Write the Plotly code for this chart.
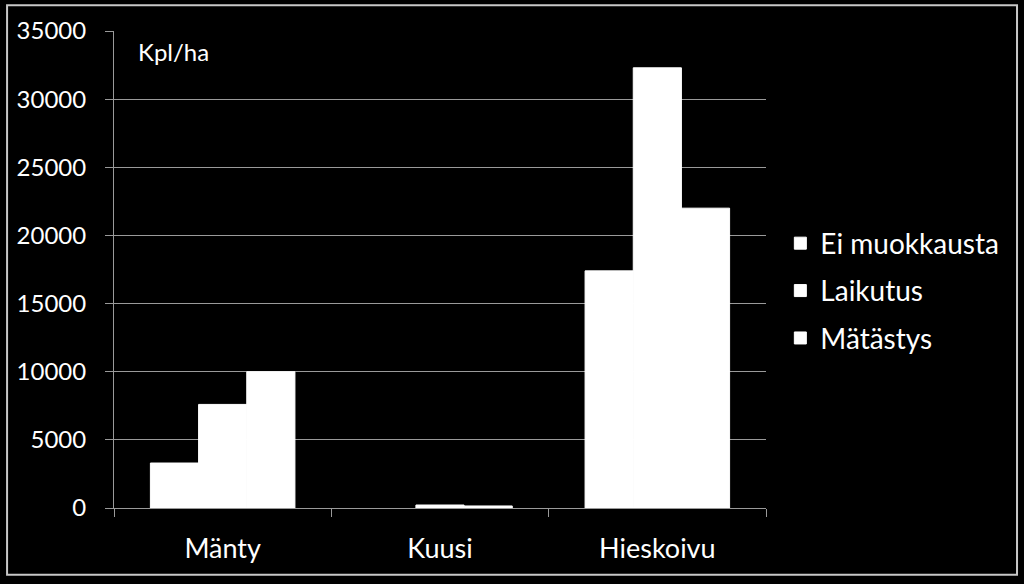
import plotly.graph_objects as go

# Taimitiheys (kpl/ha) puulajeittain ja muokkaustavoittain
categories = ["Mänty", "Kuusi", "Hieskoivu"]
series_names = ["Ei muokkausta", "Laikutus", "Mätästys"]
ei_muokkausta = [3300, 0, 17400]
laikutus = [7600, 220, 32300]
matastys = [10000, 150, 22000]
y_ticks = [0, 5000, 10000, 15000, 20000, 25000, 30000, 35000]

FONT = "Lato"
GRID = "#9a9a9a"

fig = go.Figure()
for name, vals in zip(series_names, [ei_muokkausta, laikutus, matastys]):
    # white outline hides seams between bars, but not on empty bars
    fig.add_trace(go.Bar(
        x=categories, y=vals, name=name,
        marker=dict(color="white",
                    line=dict(color="white", width=[1 if v > 0 else 0 for v in vals])),
        legendgroup=name,
    ))

fig.update_layout(
    width=1024, height=584,
    paper_bgcolor="black", plot_bgcolor="black",
    barmode="group", bargap=0.335, bargroupgap=0,
    margin=dict(l=114, r=258, t=31, b=76),
    font=dict(family=FONT, color="white", size=24),
    showlegend=True,
    legend=dict(
        x=1.022, xanchor="left", y=0.455, yanchor="middle",
        font=dict(size=28, color="white"),
        bgcolor="rgba(0,0,0,0)",
        traceorder="grouped", tracegroupgap=8,
        itemwidth=30,
    ),
    xaxis=dict(
        showline=True, linecolor=GRID, linewidth=1,
        ticks="outside", tickson="boundaries", ticklen=8, tickcolor=GRID,
        tickfont=dict(size=27), ticklabelstandoff=17,
        showgrid=False,
    ),
    yaxis=dict(
        range=[0, 35000], tickvals=y_ticks, tickformat="d",
        showline=True, linecolor=GRID, linewidth=1,
        ticks="outside", ticklen=8, tickcolor=GRID,
        showgrid=True, gridcolor=GRID, gridwidth=1,
        tickfont=dict(size=24), ticklabelstandoff=14,
        zeroline=False,
    ),
    annotations=[dict(
        text="Kpl/ha", xref="paper", yref="paper",
        x=0.034, y=0.957, xanchor="left", yanchor="middle",
        showarrow=False, font=dict(size=24, color="white"),
    )],
    shapes=[dict(
        type="rect", xref="paper", yref="paper",
        x0=-0.164, x1=1.385, y0=-0.14, y1=1.054,
        line=dict(color="#c8c8c8", width=2), layer="below",
    )],
)

fig.write_html("out.html", config={"displayModeBar": False},
               post_script="document.body.style.margin='0';")
